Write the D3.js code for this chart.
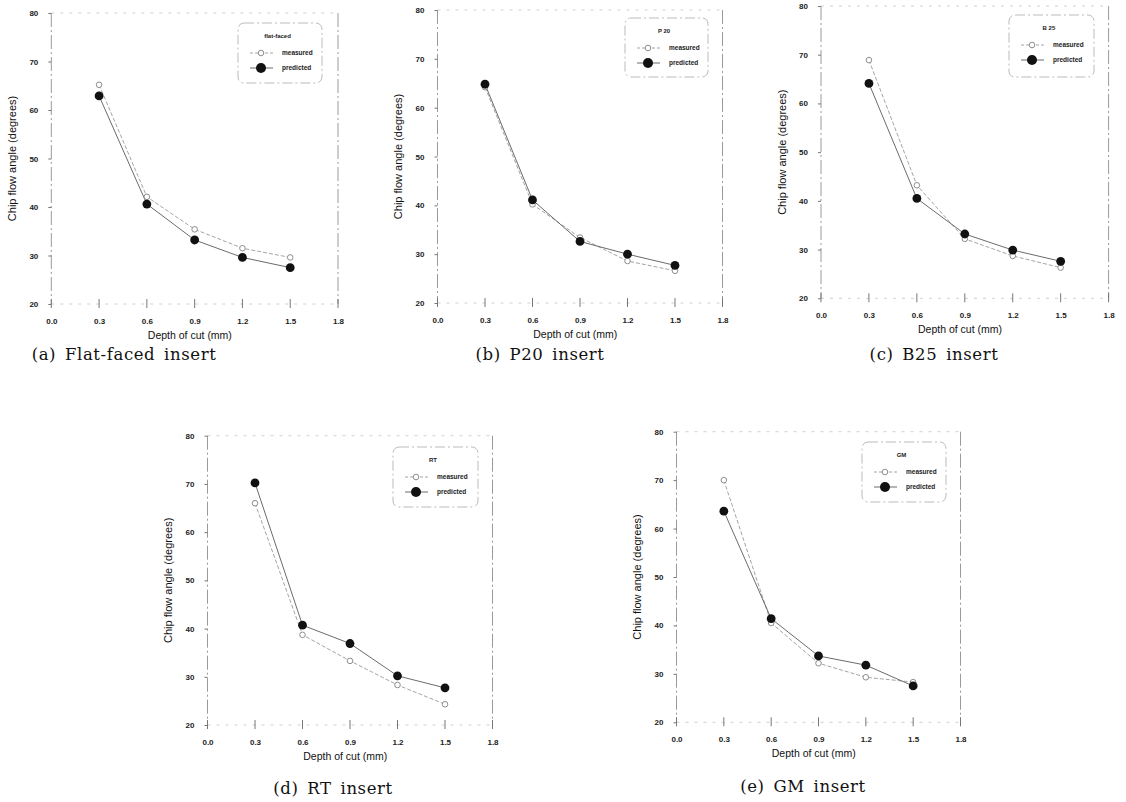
<!DOCTYPE html>
<html><head><meta charset="utf-8">
<script src="https://cdn.jsdelivr.net/npm/d3@7"></script>
<style>
html,body{margin:0;padding:0;background:#fff;}
svg{display:block;}
</style></head>
<body>
<svg id="chart" width="1126" height="802"></svg>
<script>
// ---- data ----
const depth = [0.3, 0.6, 0.9, 1.2, 1.5];
const xTicks = [0.0, 0.3, 0.6, 0.9, 1.2, 1.5, 1.8];
const xTickLabels = ["0.0", "0.3", "0.6", "0.9", "1.2", "1.5", "1.8"];
const yTicks = [20, 30, 40, 50, 60, 70, 80];
const seriesNames = ["measured", "predicted"];
const insertNames = ["flat-faced", "P 20", "B 25", "RT", "GM"];
const captions = ["(a) Flat-faced insert", "(b) P20 insert", "(c) B25 insert", "(d) RT insert", "(e) GM insert"];
const flatMeasured = [65.2, 42.1, 35.4, 31.5, 29.6];
const flatPredicted = [62.9, 40.6, 33.2, 29.6, 27.5];
const p20Measured = [64.2, 40.2, 33.4, 28.6, 26.6];
const p20Predicted = [64.8, 41.1, 32.6, 30.0, 27.7];
const b25Measured = [68.9, 43.2, 32.2, 28.7, 26.3];
const b25Predicted = [64.1, 40.5, 33.2, 29.9, 27.6];
const rtMeasured = [66.0, 38.7, 33.3, 28.3, 24.3];
const rtPredicted = [70.2, 40.7, 36.9, 30.2, 27.7];
const gmMeasured = [70.0, 40.5, 32.2, 29.3, 28.3];
const gmPredicted = [63.6, 41.4, 33.7, 31.8, 27.5];
const measuredSets = [flatMeasured, p20Measured, b25Measured, rtMeasured, gmMeasured];
const predictedSets = [flatPredicted, p20Predicted, b25Predicted, rtPredicted, gmPredicted];

// ---- layout (pixel frames of each panel) ----
const layout = [
  {x0: 51.3, x1: 338, yT: 13, yB: 304, cx: 124, cy: 354, leg: [238, 23, 84, 60]},
  {x0: 437.5, x1: 722.5, yT: 10, yB: 303, cx: 540, cy: 354, leg: [625, 18, 83, 59]},
  {x0: 821, x1: 1108.6, yT: 6, yB: 298.3, cx: 934, cy: 354, leg: [1009, 15, 85, 62]},
  {x0: 207.5, x1: 492.5, yT: 435.7, yB: 725, cx: 333, cy: 788, leg: [393, 447, 85, 60]},
  {x0: 676.5, x1: 960.5, yT: 431.7, yB: 722.3, cx: 803, cy: 786, leg: [862, 442, 84, 60]}
];

const svg = d3.select("#chart");
const frameCol = "#9a9a9a";

layout.forEach((L, i) => {
  const x = d3.scaleLinear().domain([0, 1.8]).range([L.x0, L.x1]);
  const y = d3.scaleLinear().domain([20, 80]).range([L.yB, L.yT]);
  const g = svg.append("g");

  // frame
  g.append("line").attr("x1", L.x0).attr("x2", L.x0).attr("y1", L.yT).attr("y2", L.yB)
    .attr("stroke", frameCol).attr("stroke-width", 1).attr("stroke-dasharray", "14 3 2 3");
  g.append("line").attr("x1", L.x1).attr("x2", L.x1).attr("y1", L.yT).attr("y2", L.yB)
    .attr("stroke", frameCol).attr("stroke-width", 1).attr("stroke-dasharray", "14 3 2 3");
  g.append("line").attr("x1", L.x0).attr("x2", L.x1).attr("y1", L.yT).attr("y2", L.yT)
    .attr("stroke", "#c4c4c4").attr("stroke-width", 0.8).attr("stroke-dasharray", "3 6");
  g.append("line").attr("x1", L.x0).attr("x2", L.x1).attr("y1", L.yB).attr("y2", L.yB)
    .attr("stroke", "#c4c4c4").attr("stroke-width", 0.8).attr("stroke-dasharray", "3 6");

  // x axis ticks and labels
  const xAxis = d3.axisBottom(x).tickValues(xTicks).tickSize(0)
    .tickFormat((d, k) => xTickLabels[k]).tickPadding(14);
  const xa = g.append("g").attr("transform", `translate(0,${L.yB})`).call(xAxis);
  xa.select(".domain").remove();
  xa.selectAll("text").attr("font-family", "Liberation Sans, Arial, sans-serif")
    .attr("font-size", 8).attr("font-weight", "bold").attr("fill", "#222");
  g.selectAll(".xt").data(xTicks).enter().append("line")
    .attr("x1", d => x(d)).attr("x2", d => x(d))
    .attr("y1", L.yB - 5).attr("y2", L.yB + 4)
    .attr("stroke", "#777").attr("stroke-width", 1);

  // y axis ticks and labels
  const yAxis = d3.axisLeft(y).tickValues(yTicks).tickSize(3).tickPadding(10)
    .tickFormat(d3.format("d"));
  const ya = g.append("g").attr("transform", `translate(${L.x0},0)`).call(yAxis);
  ya.select(".domain").remove();
  ya.selectAll("line").attr("stroke", "#777");
  ya.selectAll("text").attr("font-family", "Liberation Sans, Arial, sans-serif")
    .attr("font-size", 8).attr("font-weight", "bold").attr("fill", "#222");

  // axis titles
  g.append("text")
    .attr("transform", `translate(${L.x0 - 38},${(L.yT + L.yB) / 2}) rotate(-90)`)
    .attr("text-anchor", "middle").attr("dominant-baseline", "middle")
    .attr("font-family", "Liberation Sans, Arial, sans-serif").attr("font-size", 11)
    .attr("fill", "#111").text("Chip flow angle (degrees)");
  g.append("text")
    .attr("x", x(0.87)).attr("y", L.yB + 35)
    .attr("text-anchor", "middle")
    .attr("font-family", "Liberation Sans, Arial, sans-serif").attr("font-size", 10.5)
    .attr("fill", "#111").text("Depth of cut (mm)");

  // series
  const line = d3.line().x((d, k) => x(depth[k])).y(d => y(d));
  g.append("path").datum(measuredSets[i]).attr("d", line)
    .attr("fill", "none").attr("stroke", "#9a9a9a").attr("stroke-width", 0.9)
    .attr("stroke-dasharray", "4 2");
  g.append("path").datum(predictedSets[i]).attr("d", line)
    .attr("fill", "none").attr("stroke", "#5a5a5a").attr("stroke-width", 0.9);
  g.selectAll(".m").data(measuredSets[i]).enter().append("circle")
    .attr("cx", (d, k) => x(depth[k])).attr("cy", d => y(d)).attr("r", 2.8)
    .attr("fill", "#fff").attr("stroke", "#808080").attr("stroke-width", 0.9);
  g.selectAll(".p").data(predictedSets[i]).enter().append("circle")
    .attr("cx", (d, k) => x(depth[k])).attr("cy", d => y(d)).attr("r", 4.4)
    .attr("fill", "#111");

  // legend
  const [lx, ly, lw, lh] = L.leg;
  g.append("rect").attr("x", lx).attr("y", ly).attr("width", lw).attr("height", lh)
    .attr("rx", 6).attr("fill", "none").attr("stroke", "#aaa").attr("stroke-width", 0.8)
    .attr("stroke-dasharray", "10 3 2 3");
  g.append("text").attr("x", lx + lw * 0.47).attr("y", ly + 15).attr("text-anchor", "middle")
    .attr("font-family", "Liberation Sans, Arial, sans-serif").attr("font-size", 6)
    .attr("font-weight", "bold").attr("fill", "#222").text(insertNames[i]);
  seriesNames.forEach((s, k) => {
    const yy = ly + 30 + k * 15;
    const lx0 = lx + 12, lx1 = lx + 35, mx = lx + 23;
    g.append("line").attr("x1", lx0).attr("x2", lx1).attr("y1", yy).attr("y2", yy)
      .attr("stroke", k === 0 ? "#9a9a9a" : "#5a5a5a").attr("stroke-width", 0.9)
      .attr("stroke-dasharray", k === 0 ? "3 2" : null);
    if (k === 0) {
      g.append("circle").attr("cx", mx).attr("cy", yy).attr("r", 2.8)
        .attr("fill", "#fff").attr("stroke", "#808080").attr("stroke-width", 0.9);
    } else {
      g.append("circle").attr("cx", mx).attr("cy", yy).attr("r", 5).attr("fill", "#111");
    }
    g.append("text").attr("x", lx + 44).attr("y", yy).attr("dominant-baseline", "middle")
      .attr("font-family", "Liberation Sans, Arial, sans-serif").attr("font-size", 6.5)
      .attr("font-weight", "bold").attr("fill", "#222").text(s);
  });

  // caption
  svg.append("text").attr("x", L.cx).attr("y", L.cy + 6).attr("text-anchor", "middle")
    .attr("font-family", "DejaVu Serif, serif").attr("font-size", 16.5)
    .attr("letter-spacing", 0.6).attr("word-spacing", 3)
    .attr("fill", "#111").text(captions[i]);
});
</script>
</body></html>
